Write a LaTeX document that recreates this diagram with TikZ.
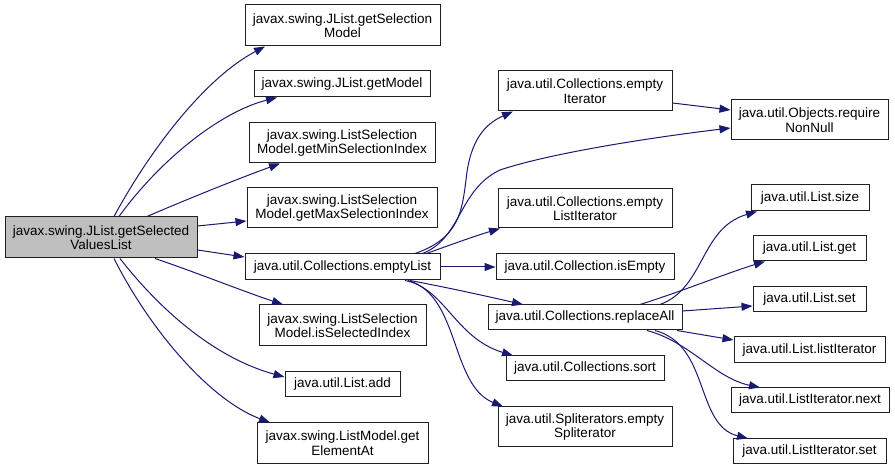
\documentclass[tikz,border=0pt]{standalone}
\usepackage{fontspec}
\setmainfont{Liberation Sans}
\usetikzlibrary{arrows.meta}
\definecolor{navy}{HTML}{191970}
\definecolor{mainfill}{HTML}{BFBFBF}
\definecolor{boxline}{HTML}{202020}
\begin{document}
\begin{tikzpicture}[x=1pt,y=-1pt,
  fbox/.style={draw=boxline, line width=1pt, rectangle, inner sep=0pt, align=center,
    font=\fontsize{13.5}{14.5}\selectfont, fill=white},
  calledge/.style={draw=navy, line width=1pt, -{Triangle[length=11pt,width=8pt]}}]
\useasboundingbox (0,0) rectangle (895,470);
% nodes
\node[fbox, fill=mainfill, minimum width=192pt, minimum height=41pt] (main) at (101,237.5) {javax.swing.JList.getSelected\\ValuesList};
\node[fbox, minimum width=195pt, minimum height=41pt] (gsm) at (342.5,25.5) {javax.swing.JList.getSelection\\Model};
\node[fbox, minimum width=176pt, minimum height=26pt] (gm) at (342,84) {javax.swing.JList.getModel};
\node[fbox, minimum width=186pt, minimum height=40pt] (gmin) at (342,143) {javax.swing.ListSelection\\Model.getMinSelectionIndex};
\node[fbox, minimum width=190pt, minimum height=40pt] (gmax) at (342,208) {javax.swing.ListSelection\\Model.getMaxSelectionIndex};
\node[fbox, minimum width=195pt, minimum height=26pt] (el) at (342.5,267) {java.util.Collections.emptyList};
\node[fbox, minimum width=167pt, minimum height=41pt] (isi) at (342.5,325.5) {javax.swing.ListSelection\\Model.isSelectedIndex};
\node[fbox, minimum width=115pt, minimum height=25pt] (add) at (342.5,384.5) {java.util.List.add};
\node[fbox, minimum width=171pt, minimum height=40pt] (gea) at (342.5,443) {javax.swing.ListModel.get\\ElementAt};
\node[fbox, minimum width=174pt, minimum height=40pt] (ei) at (585,91) {java.util.Collections.empty\\Iterator};
\node[fbox, minimum width=174pt, minimum height=39pt] (eli) at (585,208.5) {java.util.Collections.empty\\ListIterator};
\node[fbox, minimum width=178pt, minimum height=26pt] (ise) at (585,267) {java.util.Collection.isEmpty};
\node[fbox, minimum width=194pt, minimum height=25pt] (ra) at (585,317.5) {java.util.Collections.replaceAll};
\node[fbox, minimum width=158pt, minimum height=25pt] (sort) at (585,368.5) {java.util.Collections.sort};
\node[fbox, minimum width=174pt, minimum height=40pt] (spl) at (585,427) {java.util.Spliterators.empty\\Spliterator};
\node[fbox, minimum width=157pt, minimum height=40pt] (rnn) at (809.5,120) {java.util.Objects.require\\NonNull};
\node[fbox, minimum width=118pt, minimum height=26pt] (size) at (810,198) {java.util.List.size};
\node[fbox, minimum width=113pt, minimum height=25pt] (get) at (809.5,248.5) {java.util.List.get};
\node[fbox, minimum width=113pt, minimum height=25pt] (set) at (809.5,299.5) {java.util.List.set};
\node[fbox, minimum width=151pt, minimum height=26pt] (li) at (809.5,350) {java.util.List.listIterator};
\node[fbox, minimum width=158pt, minimum height=25pt] (next) at (810,400.5) {java.util.ListIterator.next};
\node[fbox, minimum width=153pt, minimum height=24pt] (lset) at (809.5,451) {java.util.ListIterator.set};
% edges from main
\draw[calledge] ([xshift=13pt]main.north) .. controls (150,150) and (205,78) .. ([xshift=-77.5pt]gsm.south);
\draw[calledge] ([xshift=18pt]main.north) .. controls (160,160) and (220,112) .. ([xshift=-65pt]gm.south);
\draw[calledge] ([xshift=46pt]main.north) .. controls (190,198) and (240,178) .. ([xshift=-62pt]gmin.south);
\draw[calledge] ([yshift=11.5pt]main.east) -- ([yshift=-13pt]gmax.west);
\draw[calledge] ([yshift=-12.5pt]main.east) -- ([yshift=10pt]el.west);
\draw[calledge] ([xshift=54pt]main.south) .. controls (195,272) and (245,292) .. ([xshift=-59.5pt]isi.north);
\draw[calledge] ([xshift=19pt]main.south) .. controls (160,310) and (215,358) .. ([yshift=7.5pt]add.west);
\draw[calledge] ([xshift=13pt]main.south) .. controls (150,330) and (210,400) .. ([xshift=-72.5pt]gea.north);
% edges from emptyList
\draw[calledge] ([xshift=72.5pt]el.north) .. controls (460,238) and (462,210) .. (466,180) .. controls (470,140) and (485,124) .. ([xshift=-72pt]ei.south);
\draw[calledge] ([xshift=80pt]el.north) .. controls (462,238) and (458,190) .. (500,170) .. controls (560,150) and (680,134) .. ([yshift=-8pt]rnn.west);
\draw[calledge] ([xshift=84pt]el.north) .. controls (450,245) and (475,236) .. ([xshift=-85pt]eli.south);
\draw[calledge] (el.east) -- (ise.west);
\draw[calledge] ([xshift=67.5pt]el.south) .. controls (450,288) and (490,297) .. ([xshift=-62pt]ra.north);
\draw[calledge] ([xshift=62.5pt]el.south) .. controls (445,288) and (455,338) .. ([xshift=-72pt]sort.north);
\draw[calledge] ([xshift=65.5pt]el.south) .. controls (460,295) and (450,385) .. ([xshift=-82pt]spl.north);
% emptyIterator
\draw[calledge] ([yshift=-12pt]ei.east) -- ([yshift=10pt]rnn.west);
% edges from replaceAll
\draw[calledge] ([xshift=75pt]ra.north) .. controls (705,288) and (700,228) .. ([xshift=-53pt]size.south);
\draw[calledge] ([xshift=55pt]ra.north) .. controls (680,292) and (730,272) .. ([xshift=-44.5pt]get.south);
\draw[calledge] ([yshift=6.5pt]ra.east) -- ([yshift=-6.5pt]set.west);
\draw[calledge] ([xshift=92pt]ra.south) -- ([yshift=10pt]li.west);
\draw[calledge] ([xshift=62pt]ra.south) .. controls (690,342) and (715,378) .. ([xshift=-50pt]next.north);
\draw[calledge] ([xshift=70pt]ra.south) .. controls (710,345) and (695,425) .. ([xshift=-61.5pt]lset.north);
\end{tikzpicture}
\end{document}
